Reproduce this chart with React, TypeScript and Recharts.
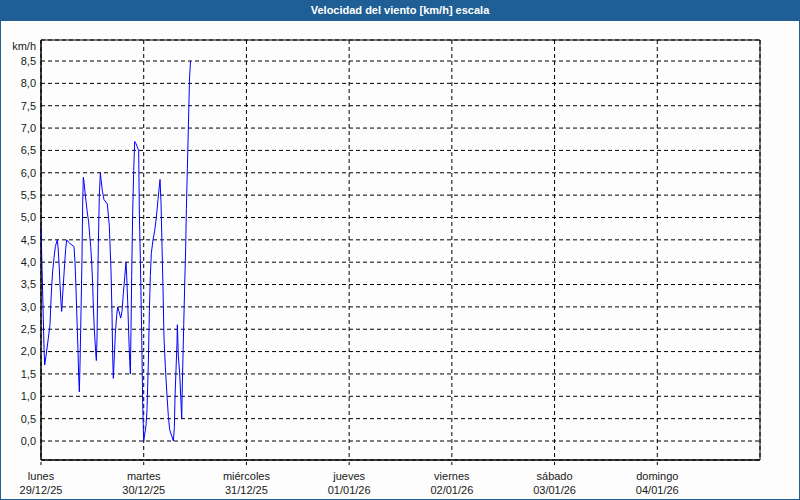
import React from "react";
import { CartesianGrid, Line, LineChart, ReferenceArea, XAxis, YAxis } from "recharts";

const dayNames = ["lunes", "martes", "miércoles", "jueves", "viernes", "sábado", "domingo"];
const dayDates = ["29/12/25", "30/12/25", "31/12/25", "01/01/26", "02/01/26", "03/01/26", "04/01/26"];

// hours since lunes 00:00
const hours = [
  0, 0.23, 0.47, 0.7, 0.86, 1.17, 1.71, 2.1, 2.26, 2.49, 2.73, 3.04, 3.35, 3.82, 4.05, 4.28, 4.44, 4.67,
  4.83, 4.99, 5.22, 5.53, 5.77, 6.0, 6.39, 7.01, 7.71, 7.95, 8.18, 8.41, 8.65, 8.8, 8.96, 9.11, 9.35, 9.58,
  9.74, 9.89, 10.05, 10.36, 10.83, 11.14, 11.37, 11.61, 11.84, 12.07, 12.23, 12.46, 12.77, 12.93, 13.09,
  13.24, 13.4, 13.63, 13.87, 14.02, 14.33, 14.72, 15.5, 15.97, 16.36, 16.59, 16.75, 16.9, 17.14, 17.37,
  17.68, 17.92, 18.23, 18.62, 18.93, 19.24, 19.55, 19.86, 20.02, 20.26, 20.49, 20.72, 20.88, 21.03, 21.19,
  21.42, 21.66, 21.89, 22.2, 22.82, 22.98, 23.22, 23.53, 23.76, 23.99, 24.23, 24.54, 24.77, 25.08, 25.32,
  25.55, 25.78, 26.17, 26.56, 26.95, 27.34, 27.81, 28.04, 28.28, 28.51, 28.74, 29.06, 29.45, 29.76, 30.07,
  30.93, 31.16, 31.32, 31.55, 31.78, 31.86, 32.09, 32.41, 32.64, 32.88, 33.03, 33.35, 33.58, 33.81, 33.97,
  34.2, 34.43, 34.7, 34.94,
];

const speeds = [
  4.8, 3.9, 3.0, 2.1, 1.7, 1.9, 2.3, 2.6, 3.0, 3.45, 3.8, 4.1, 4.35, 4.5, 4.25, 3.85, 3.5, 3.1,
  2.9, 3.15, 3.5, 3.97, 4.3, 4.5, 4.45, 4.4, 4.35, 4.0, 3.4, 2.7, 2.0, 1.45, 1.1, 1.7, 2.9, 4.1,
  5.3, 5.9, 5.8, 5.5, 5.1, 4.9, 4.6, 4.35, 4.0, 3.5, 3.0, 2.5, 2.0, 1.8, 2.3,
  3.4, 4.4, 5.5, 6.0, 5.85, 5.6, 5.4, 5.3, 4.8, 3.8, 2.85, 1.9, 1.4, 1.9, 2.4,
  2.8, 3.0, 2.9, 2.75, 2.9, 3.3, 3.65, 4.0, 3.7, 3.1, 2.4, 1.8, 1.5, 2.5, 3.7,
  5.1, 6.05, 6.7, 6.65, 6.5, 5.1, 4.05, 2.4, 0.85, 0.0, 0.15, 0.35, 0.7, 1.75, 2.9,
  3.7, 4.2, 4.5, 4.7, 5.0, 5.4, 5.85, 5.35, 4.35, 3.4, 2.3, 1.65, 1.0, 0.55, 0.25,
  0.0, 0.3, 1.0, 1.6, 2.2, 2.6, 1.9, 1.5, 1.0, 0.5, 1.3, 2.6, 3.5, 4.35, 5.2,
  6.1, 7.0, 8.1, 8.5,
];

const xTicks = [0, 24, 48, 72, 96, 120, 144];
const yTicks = [0, 0.5, 1, 1.5, 2, 2.5, 3, 3.5, 4, 4.5, 5, 5.5, 6, 6.5, 7, 7.5, 8, 8.5];

const data = hours.map((h, i) => ({ h, v: speeds[i] }));

const FONT = "'Liberation Sans', Arial, sans-serif";

function DayTick({ x, y, payload }: any) {
  const i = xTicks.indexOf(payload.value);
  return (
    <g>
      <text x={x} y={y + 13} textAnchor="middle" fontSize={11} fill="#1a1a1a" fontFamily={FONT}>
        {dayNames[i]}
      </text>
      <text x={x} y={y + 27} textAnchor="middle" fontSize={11} fill="#1a1a1a" fontFamily={FONT}>
        {dayDates[i]}
      </text>
    </g>
  );
}

export default function App() {
  return (
    <div
      style={{
        position: "absolute",
        left: 0,
        top: 0,
        width: 800,
        height: 500,
        boxSizing: "border-box",
        border: "1px solid #1f5f95",
        borderTop: "none",
        background: "#fcfdfc",
        fontFamily: FONT,
      }}
    >
      <div
        style={{
          height: 21,
          background: "#1f5f95",
          color: "#fff",
          fontWeight: "bold",
          fontSize: 11,
          lineHeight: "21px",
          textAlign: "center",
        }}
      >
        Velocidad del viento [km/h] escala
      </div>
      <div style={{ position: "absolute", left: -1, top: 0 }}>
        <LineChart width={800} height={500} data={data} margin={{ top: 40, right: 40, bottom: 0, left: 0 }}>
          <CartesianGrid stroke="#000" strokeDasharray="4 3" />
          <XAxis
            dataKey="h"
            type="number"
            domain={[0, 168]}
            ticks={xTicks}
            height={40}
            axisLine={{ stroke: "#000" }}
            tickLine={{ stroke: "#000", strokeDasharray: "3 2" }}
            tickSize={5}
            tick={<DayTick />}
            interval={0}
          />
          <YAxis
            type="number"
            domain={[-0.425, 8.97]}
            allowDataOverflow
            ticks={yTicks}
            width={41}
            interval={0}
            axisLine={{ stroke: "#000" }}
            tickLine={false}
            tickSize={0}
            tickMargin={5}
            tick={{ fontSize: 11, fill: "#1a1a1a", fontFamily: FONT }}
            tickFormatter={(v: number) => v.toFixed(1).replace(".", ",")}
            label={() => (
              <text x={36} y={50} textAnchor="end" fontSize={11} fill="#1a1a1a" fontFamily={FONT}>
                km/h
              </text>
            )}
          />
          <ReferenceArea
            x1={0}
            x2={168}
            y1={-0.425}
            y2={8.97}
            fill="none"
            stroke="#000"
            ifOverflow="visible"
          />
          <Line
            type="linear"
            dataKey="v"
            stroke="#0000ff"
            strokeWidth={1}
            dot={false}
            isAnimationActive={false}
          />
        </LineChart>
      </div>
    </div>
  );
}
